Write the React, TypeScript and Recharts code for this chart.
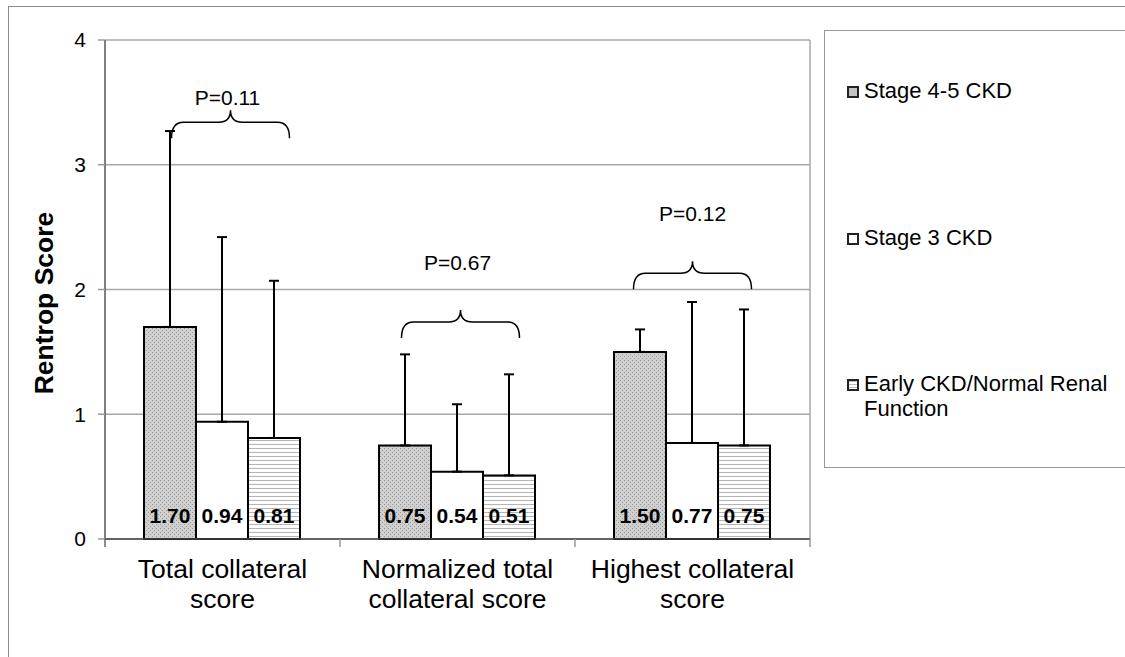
import React from 'react';
import {
  Bar,
  BarChart,
  CartesianGrid,
  ErrorBar,
  Label,
  LabelList,
  ReferenceDot,
  XAxis,
  YAxis,
} from 'recharts';

const FONT = '"Liberation Sans", Arial, sans-serif';

// categories (line break = where the axis label wraps)
const categories = [
  'Total collateral\nscore',
  'Normalized total\ncollateral score',
  'Highest collateral\nscore',
];
const seriesNames = ['Stage 4-5 CKD', 'Stage 3 CKD', 'Early CKD/Normal Renal Function'];

// mean scores
const stage45 = [1.7, 0.75, 1.5];
const stage3 = [0.94, 0.54, 0.77];
const early = [0.81, 0.51, 0.75];

// upper error bars (SD)
const stage45Sd = [1.57, 0.73, 0.18];
const stage3Sd = [1.48, 0.54, 1.13];
const earlySd = [1.26, 0.81, 1.09];

const yTicks = [0, 1, 2, 3, 4];

// p-value annotations
const pLabels = ['P=0.11', 'P=0.67', 'P=0.12'];
const braceLevels = [3.34, 1.74, 2.13];
const pLabelLevels = [3.54, 2.22, 2.61];

// small horizontal nudges of the hand-placed annotations (px)
const braceNudge = [8, 3, 0];
const pLabelNudge = [5, 0, 0];

const data = categories.map((category, i) => ({
  category,
  stage45: stage45[i],
  stage3: stage3[i],
  early: early[i],
  stage45Err: [0, stage45Sd[i]],
  stage3Err: [0, stage3Sd[i]],
  earlyErr: [0, earlySd[i]],
}));

const seriesKeys = ['stage45', 'stage3', 'early'];
const barFills = ['url(#dotFill)', '#ffffff', 'url(#lineFill)'];
const legendFills = [
  '#c2c2c2',
  '#ffffff',
  'repeating-linear-gradient(to bottom, #bbb 0px, #bbb 1px, #fff 1px, #fff 3px)',
];
const legendTops = [47, 194, 340];

function CategoryTick(props: any) {
  const { x, y, payload, index } = props;
  const half = payload?.offset ?? 0;
  const lines = String(payload.value).split('\n');
  return (
    <g>
      {index === 0 && (
        <line x1={x - half} y1={y} x2={x - half} y2={y + 8} stroke="#666" strokeWidth={1.5} />
      )}
      <line x1={x + half} y1={y} x2={x + half} y2={y + 8} stroke="#999" strokeWidth={1.5} />
      <text x={x} y={y + 39} textAnchor="middle" fontSize={26.5} fontFamily={FONT} fill="#000">
        {lines.map((line, i) => (
          <tspan key={i} x={x} dy={i === 0 ? 0 : 30}>
            {line}
          </tspan>
        ))}
      </text>
    </g>
  );
}

function ValueLabel(props: any) {
  const { x, y, width, height, value } = props;
  return (
    <text
      x={x + width / 2}
      y={y + height - 16}
      textAnchor="middle"
      fontSize={21}
      fontWeight="bold"
      fontFamily={FONT}
      fill="#000"
    >
      {Number(value).toFixed(2)}
    </text>
  );
}

function makeBrace(nudge: number) {
  return (props: any) => {
    const cx = props.cx + nudge;
    const cy = props.cy;
    const w = 59;
    const r = 12;
    const d = [
      `M ${cx - w} ${cy + 16}`,
      `Q ${cx - w} ${cy} ${cx - w + r} ${cy}`,
      `L ${cx - r} ${cy}`,
      `Q ${cx} ${cy} ${cx} ${cy - 12}`,
      `Q ${cx} ${cy} ${cx + r} ${cy}`,
      `L ${cx + w - r} ${cy}`,
      `Q ${cx + w} ${cy} ${cx + w} ${cy + 16}`,
    ].join(' ');
    return <path d={d} fill="none" stroke="#000" strokeWidth={1.5} />;
  };
}

function makePLabel(text: string, nudge: number) {
  return (props: any) => (
    <text
      x={props.cx + nudge}
      y={props.cy}
      textAnchor="middle"
      dominantBaseline="central"
      fontSize={21}
      fontFamily={FONT}
      fill="#000"
    >
      {text}
    </text>
  );
}

export default function App() {
  return (
    <div
      style={{
        position: 'absolute',
        left: 0,
        top: 0,
        width: 1125,
        height: 657,
        overflow: 'hidden',
        background: '#fff',
        fontFamily: FONT,
      }}
    >
      <svg width={0} height={0} style={{ position: 'absolute' }}>
        <defs>
          <pattern id="dotFill" width={4} height={4} patternUnits="userSpaceOnUse">
            <rect width={4} height={4} fill="#cfcfcf" />
            <rect x={0} y={0} width={1} height={1} fill="#999" />
            <rect x={2} y={2} width={1} height={1} fill="#999" />
          </pattern>
          <pattern id="lineFill" width={4} height={4} patternUnits="userSpaceOnUse">
            <rect width={4} height={4} fill="#ffffff" />
            <rect x={0} y={0} width={4} height={1} fill="#b4b4b4" />
          </pattern>
        </defs>
      </svg>

      {/* outer frame */}
      <div
        style={{
          position: 'absolute',
          left: 8,
          top: 6,
          width: 1200,
          height: 700,
          borderTop: '1.5px solid #8c8c8c',
          borderLeft: '1.5px solid #8c8c8c',
        }}
      />

      <div style={{ position: 'absolute', left: 0, top: 0 }}>
        <BarChart
          width={1125}
          height={657}
          data={data}
          margin={{ top: 40, right: 315, bottom: 48, left: 45 }}
          barCategoryGap="16.6%"
          barGap={0}
        >
          <CartesianGrid
            stroke="#a8a8a8"
            strokeWidth={1.5}
            vertical
            verticalCoordinatesGenerator={({ offset }: any) => [offset.left + offset.width]}
          />
          <XAxis
            dataKey="category"
            height={70}
            tickLine={false}
            tickSize={0}
            tickMargin={0}
            interval={0}
            axisLine={{ stroke: '#444', strokeWidth: 1.5 }}
            tick={<CategoryTick />}
          />
          <YAxis
            domain={[0, 4]}
            ticks={yTicks}
            interval={0}
            width={60}
            tickSize={7}
            tickMargin={12}
            axisLine={{ stroke: '#555', strokeWidth: 1.5 }}
            tickLine={{ stroke: '#999', strokeWidth: 1.5 }}
            tick={{ fontSize: 21, fill: '#000', fontFamily: FONT }}
          >
            <Label
              content={() => (
                <text
                  transform="translate(53, 303) rotate(-90)"
                  textAnchor="middle"
                  fontSize={26.5}
                  fontWeight="bold"
                  fontFamily={FONT}
                  fill="#000"
                >
                  Rentrop Score
                </text>
              )}
            />
          </YAxis>
          {seriesKeys.map((key, i) => (
            <Bar
              key={key}
              dataKey={key}
              name={seriesNames[i]}
              fill={barFills[i]}
              stroke="#000"
              strokeWidth={2}
              isAnimationActive={false}
            >
              <ErrorBar
                dataKey={`${key}Err`}
                direction="y"
                width={5}
                stroke="#000"
                strokeWidth={2}
              />
              <LabelList dataKey={key} content={<ValueLabel />} />
            </Bar>
          ))}
          {categories.map((cat, i) => (
            <ReferenceDot
              key={`brace-${i}`}
              x={cat}
              y={braceLevels[i]}
              r={0}
              ifOverflow="visible"
              shape={makeBrace(braceNudge[i])}
            />
          ))}
          {categories.map((cat, i) => (
            <ReferenceDot
              key={`p-${i}`}
              x={cat}
              y={pLabelLevels[i]}
              r={0}
              ifOverflow="visible"
              shape={makePLabel(pLabels[i], pLabelNudge[i])}
            />
          ))}
        </BarChart>
      </div>

      {/* legend */}
      <div
        style={{
          position: 'absolute',
          left: 824,
          top: 30,
          width: 400,
          height: 438,
          borderTop: '1.5px solid #999',
          borderLeft: '1.5px solid #999',
          borderBottom: '1.5px solid #999',
          boxSizing: 'border-box',
        }}
      >
        {seriesNames.map((name, i) => (
          <div
            key={name}
            style={{ position: 'absolute', left: 0, top: legendTops[i], width: 300 }}
          >
            <span
              style={{
                position: 'absolute',
                left: 22,
                top: 8,
                width: 8,
                height: 8,
                border: '2px solid #222',
                background: legendFills[i],
              }}
            />
            <div
              style={{
                marginLeft: 39,
                width: 250,
                fontSize: 22,
                lineHeight: '25px',
                color: '#000',
              }}
            >
              {name}
            </div>
          </div>
        ))}
      </div>
    </div>
  );
}
